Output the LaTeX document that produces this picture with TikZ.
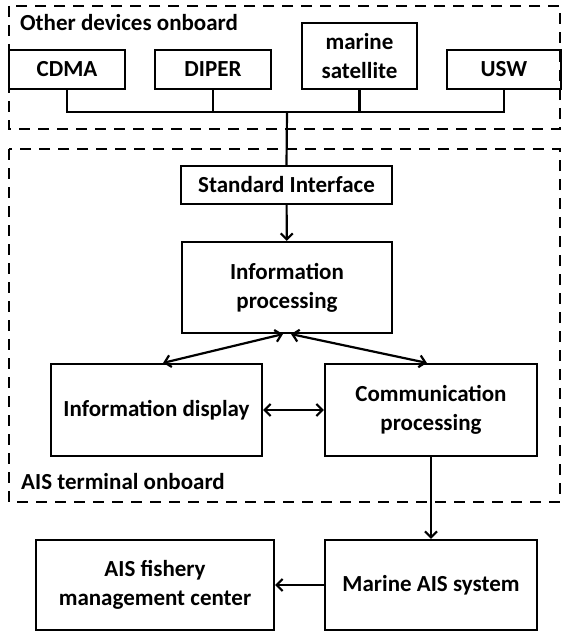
\documentclass[tikz,border=0pt]{standalone}
\usepackage{fontspec}
\setmainfont{Carlito}
\usetikzlibrary{arrows.meta}
\usetikzlibrary{positioning}
\tikzset{>={Straight Barb[length=6pt,width=12pt]}}

\begin{document}
\begin{tikzpicture}[x=1pt,y=-1pt,
        font=\fontsize{23}{29}\selectfont\bfseries,
        box/.style={draw,line width=2.2pt,align=center,inner sep=0pt},
        group/.style={draw,line width=2.8pt,dash pattern=on 11pt off 8pt},
        link/.style={line width=2.2pt}]
        \useasboundingbox (0,0) rectangle (562,634);
        % dashed groups
        \draw [group] (9,6) rectangle (560,129);
        \draw [group] (9,149) rectangle (560,502);
        \node [anchor=base west,inner sep=0pt] (othlbl) at (20,31) {Other devices onboard};
        \node [anchor=base west,inner sep=0pt] (aislbl) at (21,489) {AIS terminal onboard};
        % devices
        \node [box,minimum width=116pt,minimum height=39pt] (cdma) at (67,69.5) {CDMA};
        \node [box,minimum width=116pt,minimum height=39pt] (diper) at (213,69.5) {DIPER};
        \node [box,minimum width=115pt,minimum height=66pt] (sat) at (359.5,56) {marine\\satellite};
        \node [box,minimum width=114pt,minimum height=39pt] (usw) at (504,69.5) {USW};
        % terminal
        \node [box,minimum width=211pt,minimum height=38pt] (si) at (286.5,185) {Standard Interface};
        \node [box,minimum width=210pt,minimum height=91pt] (ip) at (287,287.5) {Information\\processing};
        \node [box,minimum width=211pt,minimum height=92pt] (id) at (156.5,410) {Information display};
        \node [box,minimum width=212pt,minimum height=92pt] (cp) at (431,410) {Communication\\processing};
        % shore side
        \node [box,minimum width=212pt,minimum height=90pt] (ma) at (431,585) {Marine AIS system};
        \node [box,minimum width=238pt,minimum height=90pt] (af) at (155,585) {AIS fishery\\management center};

        \coordinate (bus) at (287,112);
        \foreach \dev in {cdma,diper,sat,usw}
            \draw [link] (\dev.south) |- (bus);
        \draw [link] (bus) -- (si.north);
        \draw [->,link] (si) -- (ip);
        \draw [<->,link] (ip.-95) -- (id.82);
        \draw [<->,link] (ip.-85) -- (cp.95);
        \draw [<->,link] (id) -- (cp);
        \draw [->,link] (cp) -- (ma);
        \draw [->,link] (ma) -- (af);
    \end{tikzpicture}
\end{document}
